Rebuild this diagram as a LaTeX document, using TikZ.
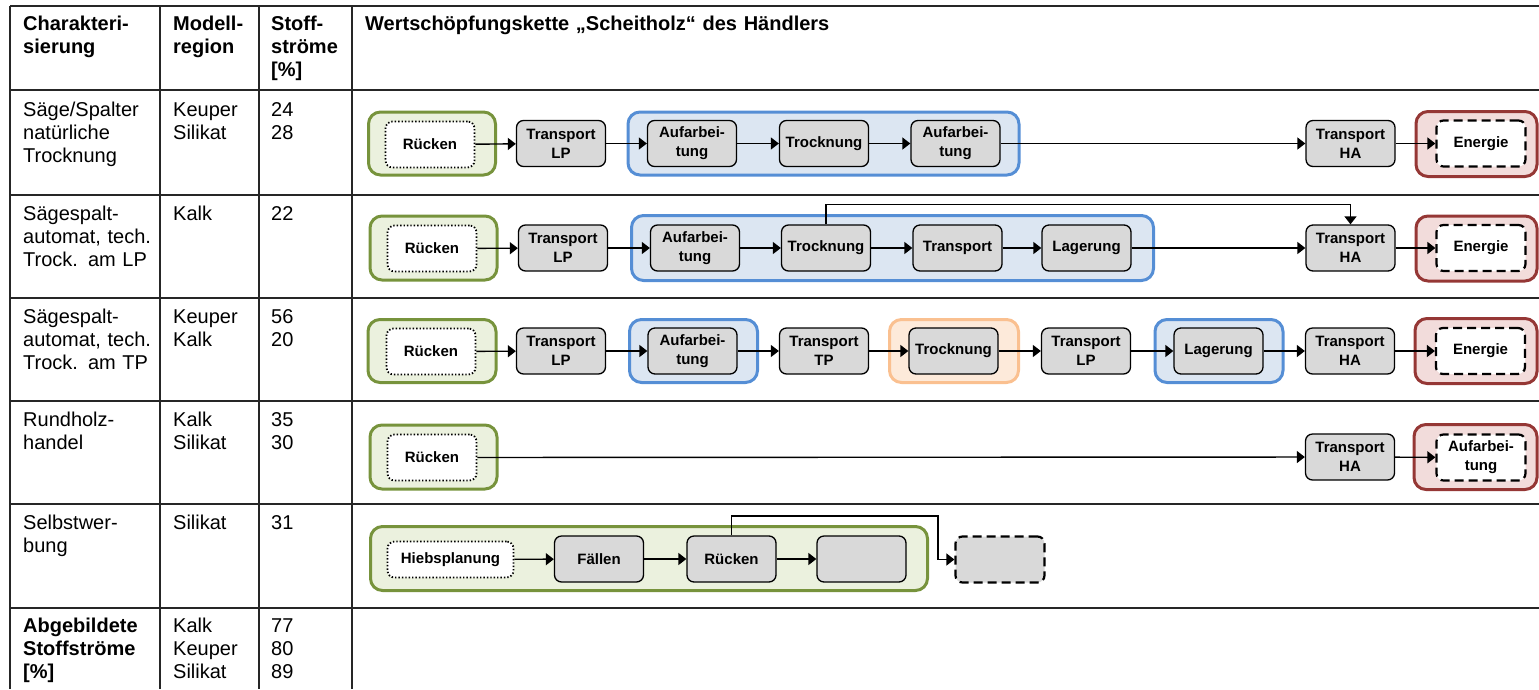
\documentclass[tikz,border=0pt]{standalone}
\usepackage{fontspec}
\setmainfont{Liberation Sans}
\usetikzlibrary{arrows.meta}

\definecolor{boxgray}{HTML}{D9D9D9}
\definecolor{grnline}{HTML}{77933C}
\definecolor{grnfill}{HTML}{EBF1DE}
\definecolor{bluline}{HTML}{558ED5}
\definecolor{blufill}{HTML}{DCE6F2}
\definecolor{orgline}{HTML}{FAC090}
\definecolor{orgfill}{HTML}{FDEADA}
\definecolor{redline}{HTML}{953735}
\definecolor{redfill}{HTML}{F2DCDB}
\definecolor{rule}{HTML}{262626}

\newcommand{\tabfont}{\fontsize{20}{23}\selectfont}
\newcommand{\boxfont}{\fontsize{15}{19}\selectfont\bfseries}

\begin{document}
\begin{tikzpicture}[x=1pt,y=-1pt,
  tabline/.style={draw=rule, line width=1.8pt},
  tab/.style={anchor=base west, inner sep=0pt, align=left, text width=135pt, font=\tabfont},
  tabhead/.style={tab, font=\tabfont\bfseries},
  proc/.style={draw=black, line width=1.3pt, fill=boxgray, rounded corners=7pt,
    minimum width=89pt, minimum height=46pt, inner sep=0pt, align=center, font=\boxfont},
  openbox/.style={proc, fill=white, line width=1.8pt, dash pattern=on 1.4pt off 2pt},
  finalbox/.style={proc, fill=white, line width=2.2pt, dash pattern=on 9pt off 5pt},
  grp/.style={line width=3pt, rounded corners=12pt, inner sep=0pt, minimum height=63pt},
  grpgreen/.style={grp, draw=grnline, fill=grnfill},
  grpblue/.style={grp, draw=bluline, fill=blufill},
  grporange/.style={grp, draw=orgline, fill=orgfill},
  grpred/.style={grp, draw=redline, fill=redfill},
  arr/.style={line width=1.4pt, -{Triangle[length=8pt,width=12pt]}}
]
\useasboundingbox (0,0) rectangle (1539,689);

% ---------------- table grid ----------------
\draw[tabline] (10,6) -- (1539,6);
\foreach \yy in {90,195,298,401,504,608}
  \draw[tabline] (10,\yy) -- (1539,\yy);
\foreach \xx in {10,160,259,352}
  \draw[tabline] (\xx,6) -- (\xx,689);

% ---------------- table texts ----------------
\node[tabhead] (h1) at (23,30) {Charakteri-\\sierung};
\node[tabhead] (h2) at (173,30) {Modell-\\region};
\node[tabhead] (h3) at (271,30) {Stoff-\\ströme\\{[\%]}};
\node[tabhead, text width=1100pt] (h4) at (365,30) {Wertschöpfungskette „Scheitholz“ des Händlers};

\node[tab] (c11) at (23,116) {Säge/Spalter\\natürliche\\Trocknung};
\node[tab] (c12) at (173,116) {Keuper\\Silikat};
\node[tab] (c13) at (271,116) {24\\28};

\node[tab] (c21) at (23,220) {Sägespalt-\\automat, tech.\\Trock. am LP};
\node[tab] (c22) at (173,220) {Kalk};
\node[tab] (c23) at (271,220) {22};

\node[tab] (c31) at (23,323) {Sägespalt-\\automat, tech.\\Trock. am TP};
\node[tab] (c32) at (173,323) {Keuper\\Kalk};
\node[tab] (c33) at (271,323) {56\\20};

\node[tab] (c41) at (23,426) {Rundholz-\\handel};
\node[tab] (c42) at (173,426) {Kalk\\Silikat};
\node[tab] (c43) at (271,426) {35\\30};

\node[tab] (c51) at (23,529) {Selbstwer-\\bung};
\node[tab] (c52) at (173,529) {Silikat};
\node[tab] (c53) at (271,529) {31};

\node[tabhead] (c61) at (23,632) {Abgebildete\\Stoffströme\\{[\%]}};
\node[tab] (c62) at (173,632) {Kalk\\Keuper\\Silikat};
\node[tab] (c63) at (271,632) {77\\80\\89};

% ---------------- chain 1 ----------------
\node[grpgreen, minimum width=127pt] (g1) at (432,143.5) {};
\node[grpblue, minimum width=391pt] (b1) at (823.5,143.5) {};
\node[grpred, minimum width=121pt, minimum height=65pt] (q1) at (1476.5,144) {};
\node[openbox] (d1) at (430,144.5) {Rücken};
\node[proc] (t1) at (561,143.5) {Transport\\LP};
\node[proc] (a1) at (692,143.5) {Aufarbei-\\tung};
\node[proc] (tr1) at (824,143.5) {Trocknung};
\node[proc] (a1b) at (955.5,143.5) {Aufarbei-\\tung};
\node[proc] (ha1) at (1350.5,143.5) {Transport\\HA};
\node[finalbox] (e1) at (1481,143.5) {Energie};
\draw[arr] (d1) -- (t1);
\draw[arr] (t1) -- (a1);
\draw[arr] (a1) -- (tr1);
\draw[arr] (tr1) -- (a1b);
\draw[arr] (a1b) -- (ha1);
\draw[arr] (ha1) -- (e1);

% ---------------- chain 2 ----------------
\node[grpgreen, minimum width=127pt, minimum height=64pt] (g2) at (433.5,248) {};
\node[grpblue, minimum width=522pt, minimum height=65pt] (b2) at (892.5,248) {};
\node[grpred, minimum width=121pt, minimum height=65pt] (q2) at (1476.5,248.5) {};
\node[openbox] (d2) at (432,248.5) {Rücken};
\node[proc] (t2) at (563,248) {Transport\\LP};
\node[proc] (a2) at (695,248) {Aufarbei-\\tung};
\node[proc] (tr2) at (826,248) {Trocknung};
\node[proc] (tp2) at (957.5,248) {Transport};
\node[proc] (l2) at (1086.5,248) {Lagerung};
\node[proc] (ha2) at (1350.5,248) {Transport\\HA};
\node[finalbox] (e2) at (1481,248) {Energie};
\draw[arr] (d2) -- (t2);
\draw[arr] (t2) -- (a2);
\draw[arr] (a2) -- (tr2);
\draw[arr] (tr2) -- (tp2);
\draw[arr] (tp2) -- (l2);
\draw[arr] (l2) -- (ha2);
\draw[arr] (ha2) -- (e2);
\draw[arr] (tr2.north) -- ++(0,-20) -| (ha2.north);

% ---------------- chain 3 ----------------
\node[grpgreen, minimum width=128pt] (g3) at (432,351) {};
\node[grpblue, minimum width=128pt] (b3a) at (693.5,351) {};
\node[grporange, minimum width=129pt] (o3) at (954,351) {};
\node[grpblue, minimum width=128pt] (b3b) at (1219,351) {};
\node[grpred, minimum width=122pt, minimum height=65pt] (q3) at (1476,351) {};
\node[openbox] (d3) at (431,351.5) {Rücken};
\node[proc] (t3) at (561,351) {Transport\\LP};
\node[proc] (a3) at (692.5,351) {Aufarbei-\\tung};
\node[proc] (tp3) at (824,351) {Transport\\TP};
\node[proc] (tr3) at (953.5,351) {Trocknung};
\node[proc] (tlp3) at (1086,351) {Transport\\LP};
\node[proc] (l3) at (1218.5,351) {Lagerung};
\node[proc] (ha3) at (1350,351) {Transport\\HA};
\node[finalbox] (e3) at (1480.5,351) {Energie};
\draw[arr] (d3) -- (t3);
\draw[arr] (t3) -- (a3);
\draw[arr] (a3) -- (tp3);
\draw[arr] (tp3) -- (tr3);
\draw[arr] (tr3) -- (tlp3);
\draw[arr] (tlp3) -- (l3);
\draw[arr] (l3) -- (ha3);
\draw[arr] (ha3) -- (e3);

% ---------------- chain 4 ----------------
\node[grpgreen, minimum width=127pt, minimum height=64pt] (g4) at (433.5,457) {};
\node[grpred, minimum width=123pt, minimum height=65pt] (q4) at (1475.5,457) {};
\node[openbox] (d4) at (432,457.5) {Rücken};
\node[proc] (ha4) at (1350,457) {Transport\\HA};
\node[finalbox] (e4) at (1481,457.5) {Aufarbei-\\tung};
\draw[arr] (d4) -- (ha4);
\draw[arr] (ha4) -- (e4);

% ---------------- chain 5 ----------------
\node[grpgreen, minimum width=557pt, minimum height=64pt] (g5) at (649,558.5) {};
\node[openbox, minimum width=126pt, minimum height=36pt] (hp) at (450.5,559.5) {Hiebsplanung};
\node[proc] (f5) at (599,559) {Fällen};
\node[proc] (r5) at (731.5,559) {Rücken};
\node[proc] (e5) at (861.5,559) {};
\node[finalbox, fill=boxgray] (x5) at (1000,559.5) {};
\coordinate (k5) at (938,516);
\draw[arr] (hp) -- (f5);
\draw[arr] (f5) -- (r5);
\draw[arr] (r5) -- (e5);
\draw[arr] (r5.north) |- (k5) |- (x5.west);

\end{tikzpicture}
\end{document}
